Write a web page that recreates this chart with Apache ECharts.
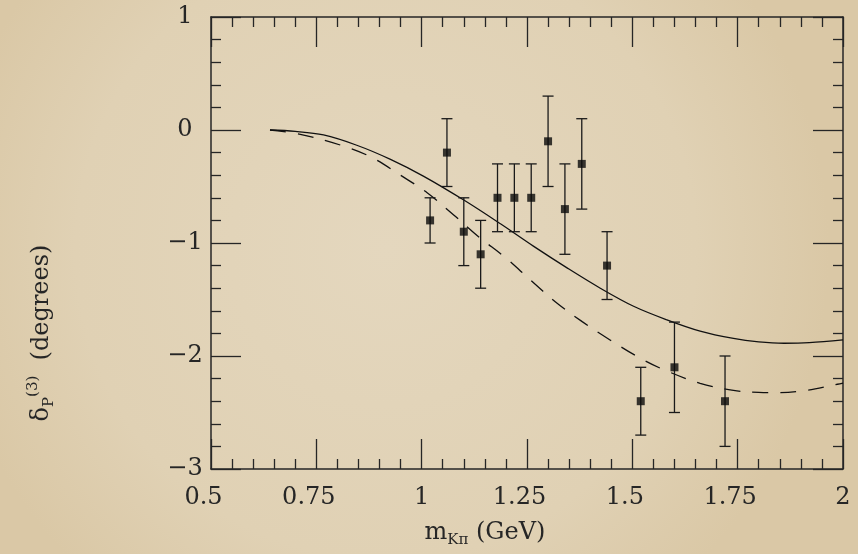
<!DOCTYPE html>
<html>
<head>
<meta charset="utf-8">
<script src="https://cdn.jsdelivr.net/npm/echarts@6/dist/echarts.min.js"></script>
<style>
html,body{margin:0;padding:0;background:#e2d4b9;}
#c{width:858px;height:554px;}
</style>
</head>
<body>
<div id="c"></div>
<script>
// ---- data ----
const xTicks = [0.5, 0.75, 1, 1.25, 1.5, 1.75, 2];
const yTicks = [-3, -2, -1, 0, 1];

const massX    = [1.02, 1.06, 1.10, 1.14, 1.18, 1.22, 1.26, 1.30, 1.34, 1.38, 1.44, 1.52, 1.60, 1.72];
const phaseY   = [-0.8, -0.2, -0.9, -1.1, -0.6, -0.6, -0.6, -0.1, -0.7, -0.3, -1.2, -2.4, -2.1, -2.4];
const phaseErr = [0.2,  0.3,  0.3,  0.3,  0.3,  0.3,  0.3,  0.4,  0.4,  0.4,  0.3,  0.3,  0.4,  0.4];

const solidX = [0.64, 0.70, 0.767, 0.846, 0.926, 1.005, 1.10, 1.187, 1.266, 1.345, 1.424, 1.503, 1.582, 1.661, 1.74, 1.80, 1.86, 1.92, 2.0];
const solidY = [0, -0.012, -0.044, -0.135, -0.26, -0.41, -0.62, -0.83, -1.03, -1.22, -1.40, -1.56, -1.68, -1.78, -1.845, -1.875, -1.887, -1.882, -1.858];

const dashX = [0.64, 0.712, 0.807, 0.878, 0.949, 1.013, 1.076, 1.135, 1.199, 1.258, 1.317, 1.381, 1.448, 1.519, 1.574, 1.661, 1.74, 1.80, 1.84, 1.908, 1.987, 2.0];
const dashY = [0, -0.038, -0.133, -0.236, -0.398, -0.556, -0.752, -0.944, -1.13, -1.327, -1.519, -1.696, -1.86, -2.02, -2.12, -2.242, -2.305, -2.322, -2.325, -2.307, -2.25, -2.24];

// ---- chart ----
const FONT = 'DejaVu Serif';
const INK = '#262626';
const chart = echarts.init(document.getElementById('c'), null, {renderer: 'canvas'});

const xStep = xTicks[1] - xTicks[0];
const yStep = yTicks[1] - yTicks[0];

function axisCommon() {
  return {
    axisLine: {show: true, onZero: false, lineStyle: {color: INK, width: 1.5}},
    axisTick: {show: true, inside: true, length: 30, lineStyle: {color: INK, width: 1.3}},
    minorTick: {show: true, splitNumber: 5, length: 10, lineStyle: {color: INK, width: 1.3}},
    splitLine: {show: false},
    minorSplitLine: {show: false}
  };
}

const xBase = {
  type: 'value', min: xTicks[0], max: xTicks[xTicks.length - 1], interval: xStep
};
const yBase = {
  type: 'value', min: yTicks[0], max: yTicks[yTicks.length - 1], interval: yStep
};

const option = {
  animation: false,
  backgroundColor: {
    type: 'radial', x: 0.45, y: 0.45, r: 0.8,
    colorStops: [
      {offset: 0, color: '#e4d7be'},
      {offset: 0.7, color: '#e0d1b4'},
      {offset: 1, color: '#dac8a6'}
    ]
  },
  grid: {left: 211, right: 15, top: 17, bottom: 85, containLabel: false},
  xAxis: [
    Object.assign({}, xBase, axisCommon(), {
      position: 'bottom',
      axisLabel: {
        show: true, margin: 17, color: INK, fontFamily: FONT, fontSize: 24,
        formatter: function (v) {
          const s = String(v);
          return s.indexOf('.') >= 0 ? '{d|' + s + '}' : '{n|' + s + '}';
        },
        rich: {
          d: {fontFamily: FONT, fontSize: 24, color: INK, padding: [0, 15, 0, 0]},
          n: {fontFamily: FONT, fontSize: 24, color: INK}
        }
      }
    }),
    Object.assign({}, xBase, axisCommon(), {
      position: 'top', axisLabel: {show: false}
    })
  ],
  yAxis: [
    Object.assign({}, yBase, axisCommon(), {
      position: 'left',
      axisLabel: {
        show: true, margin: 26, align: 'center', color: INK, fontFamily: FONT, fontSize: 24,
        formatter: function (v) { return String(v).replace('-', '\u2212'); }
      }
    }),
    Object.assign({}, yBase, axisCommon(), {
      position: 'right', axisLabel: {show: false}
    })
  ],
  graphic: [
    {
      type: 'text', x: 485, y: 533, silent: true,
      style: {
        text: 'm{s|K\u03c0} (GeV)',
        fontFamily: FONT, fontSize: 24, fill: INK,
        align: 'center', verticalAlign: 'middle',
        rich: {
          s: {fontFamily: FONT, fontSize: 15, fill: INK, padding: [14, 0, 0, 0]}
        }
      }
    },
    {
      type: 'text', x: 42, y: 333, rotation: Math.PI / 2, silent: true,
      style: {
        text: '\u03b4{p|P}{t|(3)}  (degrees)',
        fontFamily: FONT, fontSize: 24, fill: INK,
        align: 'center', verticalAlign: 'middle',
        rich: {
          p: {fontFamily: FONT, fontSize: 15, fill: INK, padding: [14, 0, 0, 0]},
          t: {fontFamily: FONT, fontSize: 15, fill: INK, padding: [0, 0, 18, 0]}
        }
      }
    }
  ],
  series: [
    {
      type: 'line', name: 'solid', xAxisIndex: 0, yAxisIndex: 0,
      data: solidX.map((x, i) => [x, solidY[i]]),
      smooth: 0.35, showSymbol: false, symbol: 'none', silent: true,
      lineStyle: {color: '#111', width: 1.3, type: 'solid'}, z: 2
    },
    {
      type: 'line', name: 'dashed', xAxisIndex: 0, yAxisIndex: 0,
      data: dashX.map((x, i) => [x, dashY[i]]),
      smooth: 0.35, showSymbol: false, symbol: 'none', silent: true,
      lineStyle: {color: '#111', width: 1.3, type: [16, 12]}, z: 2
    },
    {
      type: 'custom', name: 'errors', xAxisIndex: 0, yAxisIndex: 0, silent: true,
      data: massX.map((x, i) => [x, phaseY[i], phaseErr[i]]),
      encode: {x: 0, y: 1},
      renderItem: function (params, api) {
        const x = api.value(0), y = api.value(1), e = api.value(2);
        const t = api.coord([x, y + e]);
        const b = api.coord([x, y - e]);
        const hw = 5.5;
        const st = {stroke: '#1a1a1a', lineWidth: 1.3, fill: null};
        return {
          type: 'group',
          children: [
            {type: 'line', shape: {x1: t[0], y1: t[1], x2: b[0], y2: b[1]}, style: st},
            {type: 'line', shape: {x1: t[0] - hw, y1: t[1], x2: t[0] + hw, y2: t[1]}, style: st},
            {type: 'line', shape: {x1: b[0] - hw, y1: b[1], x2: b[0] + hw, y2: b[1]}, style: st}
          ]
        };
      },
      z: 3
    },
    {
      type: 'scatter', name: 'points', xAxisIndex: 0, yAxisIndex: 0, silent: true,
      data: massX.map((x, i) => [x, phaseY[i]]),
      symbol: 'rect', symbolSize: 8,
      itemStyle: {color: '#0a0a0a'}, z: 4
    }
  ]
};
chart.setOption(option);
</script>
</body>
</html>
